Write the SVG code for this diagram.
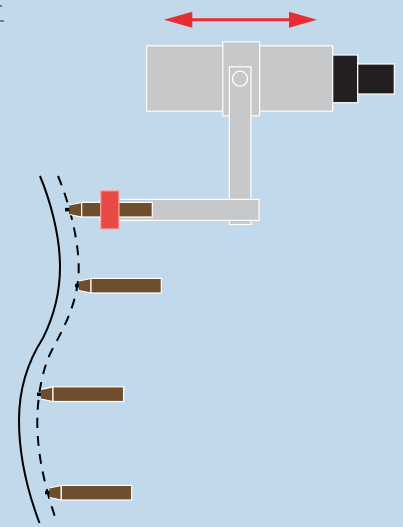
<svg xmlns="http://www.w3.org/2000/svg" width="403" height="527" viewBox="0 0 403 527">
<style>
.part{stroke:#fff;stroke-width:1.2}
.gray{fill:#c7c8ca}
.black{fill:#231f20}
.brown{fill:#6f4e2e}
.curve{fill:none;stroke:#000;stroke-width:2}
.tick{fill:none;stroke:#000;stroke-width:3.500}
</style>
<rect width="403" height="527" fill="#c1d9ea"/>
<g id="corner-marks">
<path d="M0 6H2M0 21H4" fill="none" stroke="#1a2a35" stroke-width="1.200"/>
</g>
<g id="connectors">
<path id="surface" class="curve" d="M40 176C50 200 60 235 60 267C60 290 56 312 43 338C34 352 19 380 19 420C19 455 27 490 39.500 523"/>
<path id="offset" class="curve" stroke-dasharray="10 8" d="M58 176C66 195 79 235 78.700 270C78 300 67 322 52 350C43 367 37 395 37.300 425C38 460 46 490 57 523"/>
</g>
<g id="travel-arrow">
<path d="M164 19.700L192.300 11.700V18.200H289V11.700L317 19.700L289 27.700V21.200H192.300V27.700Z" fill="#e52d32"/>
</g>
<g id="carriage">
<rect class="part gray" x="146.600" y="45.800" width="186" height="65.400"/>
<rect class="part gray" x="222.800" y="41.800" width="36.800" height="74"/>
<rect class="part black" x="332.700" y="55" width="25" height="47.700"/>
<rect class="part black" x="357.700" y="64" width="36.600" height="30"/>
</g>
<g id="arm">
<rect class="part gray" x="229.400" y="66.800" width="21.500" height="157.700"/>
<circle class="part" cx="240" cy="78.700" r="7.500" fill="none"/>
<rect class="part gray" x="100" y="199.400" width="159" height="21"/>
</g>
<g id="probe-1">
<path class="tick" d="M65 209.600H71"/>
<path class="part brown" d="M69.500 205L81.700 202.400V217L69.500 214.500Z" stroke="none" style="stroke:none"/>
<path class="part brown" d="M69.500 205L81.700 202.400V217L69.500 214.500"/>
<rect class="part brown" x="81.700" y="202.400" width="70.600" height="14.600"/>
</g>
<g id="clamp">
<rect x="100.700" y="190.800" width="18.300" height="38.200" fill="#e84a45" stroke="#f7a9a3" stroke-width="1.200"/>
</g>
<g id="probe-2">
<path class="tick" d="M75 285.600H80"/>
<path class="part brown" d="M79 281L91 278.400V293L79 290.500"/>
<rect class="part brown" x="91" y="278.400" width="70.300" height="14.600"/>
</g>
<g id="probe-3">
<path class="tick" d="M37 394.300H42"/>
<path class="part brown" d="M41 389.400L53 386.800V401.500L41 399"/>
<rect class="part brown" x="53" y="386.800" width="70.600" height="14.700"/>
</g>
<g id="probe-4">
<path class="tick" d="M45 492.600H50"/>
<path class="part brown" d="M49.400 488L61.300 485.400V500L49.400 497.500"/>
<rect class="part brown" x="61.300" y="485.400" width="70.400" height="14.600"/>
</g>
</svg>
